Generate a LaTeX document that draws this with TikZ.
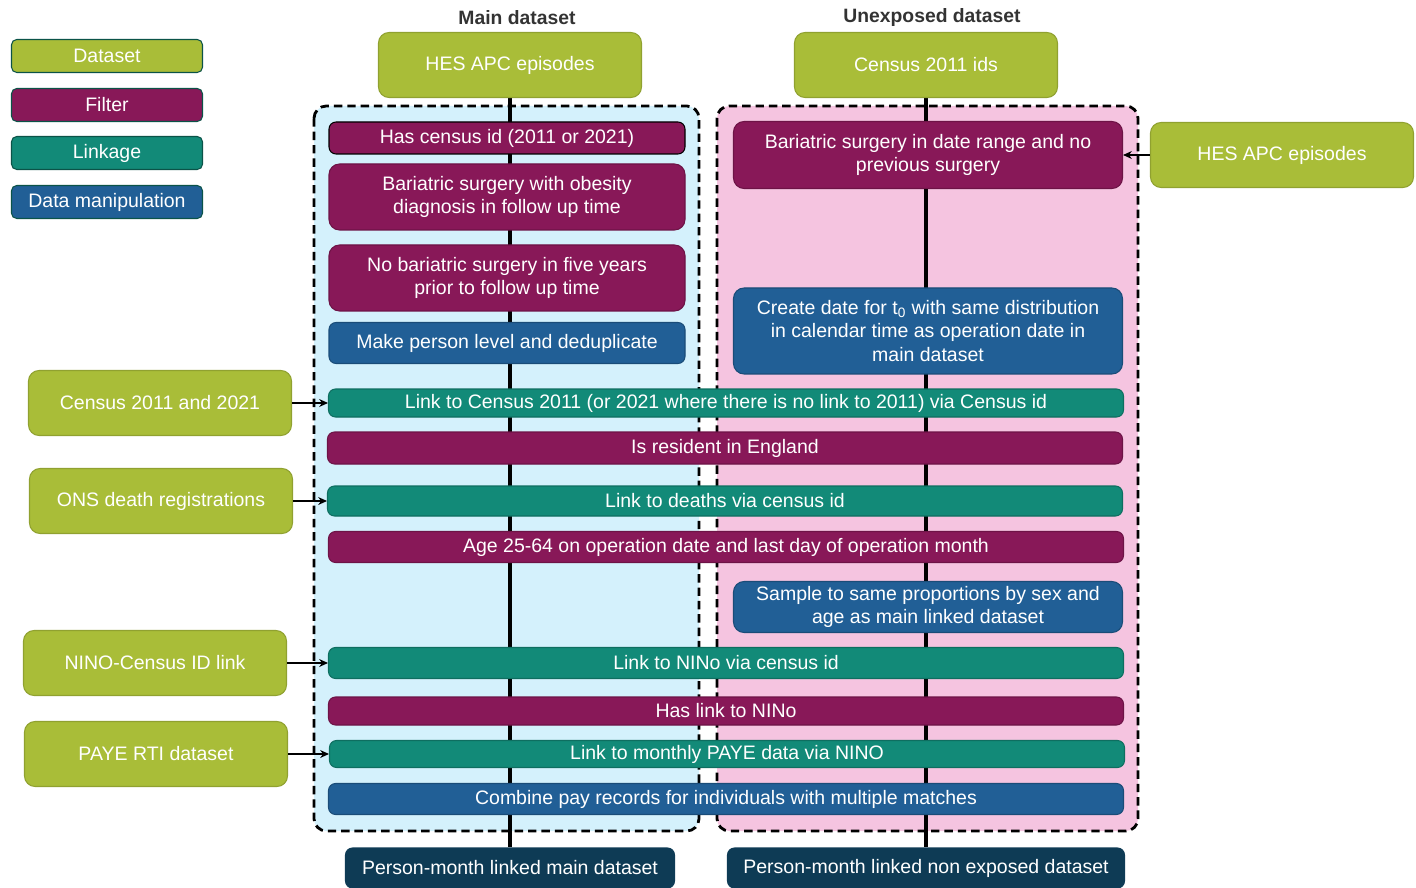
\documentclass[tikz,border=0pt]{standalone}
\usepackage{fontspec}
\setmainfont{Liberation Sans}
\usepackage{tikz}
\usetikzlibrary{positioning, arrows.meta, backgrounds}
\definecolor{dataset}{HTML}{A9BD38}
\definecolor{filter}{HTML}{881858}
\definecolor{linkage}{HTML}{128A78}
\definecolor{manip}{HTML}{215F96}
\definecolor{output}{HTML}{0E3B55}
\definecolor{mainbg}{HTML}{D4F1FC}
\definecolor{unexpbg}{HTML}{F5C4E0}
\definecolor{heading}{HTML}{333333}
\newlength\pxu
\setlength\pxu{0.02cm}

\begin{document}
\begin{tikzpicture}[
  x=0.02cm, y=-0.02cm,
  box/.style={rounded corners=4pt, text=white, align=center, inner sep=2pt,
              line width=0.6pt, font=\fontsize{11.1}{13.4}\selectfont},
  dataset/.style={box, fill=dataset, draw=dataset!85!black},
  filter/.style={box, fill=filter, draw=filter!80!black},
  linkage/.style={box, fill=linkage, draw=linkage!80!black},
  manip/.style={box, fill=manip, draw=manip!80!black},
  legend/.style={draw=linkage!60!black, rounded corners=3pt,
                 minimum width=191\pxu, minimum height=33\pxu},
  srcbox/.style={minimum width=263\pxu, minimum height=65\pxu, rounded corners=6pt},
  mainbox/.style={minimum width=356\pxu},
  unexpbox/.style={minimum width=389\pxu, rounded corners=6pt},
  widebox/.style={minimum width=795\pxu},
  outbox/.style={box, fill=output, draw=output, minimum height=40\pxu},
  heading/.style={font=\bfseries\fontsize{11}{13}\selectfont, text=heading},
  container/.style={draw=black, line width=1.6pt, dash pattern=on 4.8pt off 2.8pt,
                    rounded corners=7pt},
  flow/.style={black, line width=1.8pt},
  feed/.style={-{Stealth[length=5pt,width=4.5pt]}, black, line width=0.6pt}
]
  \useasboundingbox (0,0) rectangle (1416,888);

  % legend
  \node[dataset, legend] (legdataset) at (107,56)  {Dataset};
  \node[filter, legend]  (legfilter)  at (107,105) {Filter};
  \node[linkage, legend] (leglinkage) at (107,153) {Linkage};
  \node[manip, legend]   (legmanip)   at (107,202) {Data manipulation};

  % main dataset column
  \node[heading] (mainhead) at (517,18) {Main dataset};
  \node[dataset, srcbox] (hesmain) at (510,65) {HES APC episodes};
  \node[filter, mainbox, draw=black, minimum height=32\pxu] (hascensus) at (507,138)
    {Has census id (2011 or 2021)};
  \node[filter, mainbox, minimum height=66\pxu, rounded corners=6pt] (obesity) at (507,197)
    {Bariatric surgery with obesity\\diagnosis in follow up time};
  \node[filter, mainbox, minimum height=66\pxu, rounded corners=6pt] (noprior) at (507,278)
    {No bariatric surgery in five years\\prior to follow up time};
  \node[manip, mainbox, minimum height=41\pxu] (dedup) at (507,343)
    {Make person level and deduplicate};

  % unexposed dataset column
  \node[heading] (unexphead) at (932,18) {Unexposed dataset};
  \node[dataset, srcbox] (census11) at (926,65) {Census 2011 ids};
  \node[filter, unexpbox, minimum height=67\pxu] (daterange) at (928,155)
    {Bariatric surgery in date range and no\\previous surgery};
  \node[manip, unexpbox, minimum height=86\pxu] (tzero) at (928,331)
    {Create date for t\textsubscript{0} with same distribution\\in calendar time as operation date in\\main dataset};
  \node[manip, unexpbox, minimum height=51\pxu] (sample) at (928,607)
    {Sample to same proportions by sex and\\age as main linked dataset};

  % shared steps
  \node[linkage, widebox, minimum height=28\pxu] (linkcensus) at (726,403)
    {Link to Census 2011 (or 2021 where there is no link to 2011) via Census id};
  \node[filter, widebox, minimum height=32\pxu] (resident) at (725,448)
    {Is resident in England};
  \node[linkage, widebox, minimum height=30\pxu] (linkdeaths) at (725,501)
    {Link to deaths via census id};
  \node[filter, widebox, minimum height=31\pxu] (agerange) at (726,547)
    {Age 25-64 on operation date and last day of operation month};
  \node[linkage, widebox, minimum height=31\pxu] (linknino) at (726,663)
    {Link to NINo via census id};
  \node[filter, widebox, minimum height=28\pxu] (hasnino) at (726,711)
    {Has link to NINo};
  \node[linkage, widebox, minimum height=27\pxu] (linkpaye) at (727,754)
    {Link to monthly PAYE data via NINO};
  \node[manip, widebox, minimum height=31\pxu] (combine) at (726,799)
    {Combine pay records for individuals with multiple matches};

  % outputs
  \node[outbox, minimum width=329\pxu] (outmain) at (510,868)
    {Person-month linked main dataset};
  \node[outbox, minimum width=397\pxu] (outunexp) at (926,868)
    {Person-month linked non exposed dataset};

  % side sources
  \node[dataset, srcbox] (hesside)    at (1282,155) {HES APC episodes};
  \node[dataset, srcbox] (census1121) at (160,403)  {Census 2011 and 2021};
  \node[dataset, srcbox] (onsdeath)   at (161,501)  {ONS death registrations};
  \node[dataset, srcbox] (ninolink)   at (155,663)  {NINO-Census ID link};
  \node[dataset, srcbox] (payerti)    at (156,754)  {PAYE RTI dataset};

  \draw[feed] (hesside)    -- (daterange);
  \draw[feed] (census1121) -- (linkcensus);
  \draw[feed] (onsdeath)   -- (linkdeaths);
  \draw[feed] (ninolink)   -- (linknino);
  \draw[feed] (payerti)    -- (linkpaye);

  \begin{scope}[on background layer]
    \draw[container, fill=mainbg]  (314,106) rectangle (699,831);
    \draw[container, fill=unexpbg] (717,106) rectangle (1138,831);
    \draw[flow] (hesmain)  -- (outmain);
    \draw[flow] (census11) -- (outunexp);
  \end{scope}
\end{tikzpicture}
\end{document}
